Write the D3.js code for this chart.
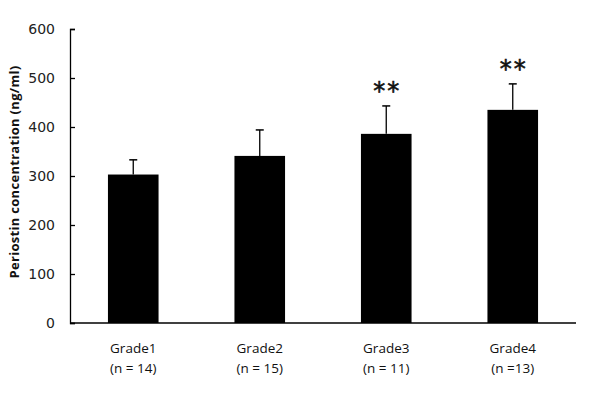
<!DOCTYPE html>
<html>
<head>
<meta charset="utf-8">
<script src="https://cdn.jsdelivr.net/npm/d3@7"></script>
<style>
  body { margin: 0; background: #fff; }
  svg { display: block; }
</style>
</head>
<body>
<div id="chart"></div>
<script>
// Data
const grades = ['Grade 1', 'Grade 2', 'Grade 3', 'Grade 4'];
const gradeLabels = ['Grade1', 'Grade2', 'Grade3', 'Grade4'];
const sampleLabels = ['(n = 14)', '(n = 15)', '(n = 11)', '(n =13)'];
const means = [303, 341, 386, 435];
const errors = [30, 53, 57, 53];
const significance = ['', '', '**', '**'];
const yTicks = [0, 100, 200, 300, 400, 500, 600];

const width = 600, height = 400;
const margin = { top: 29, right: 24, bottom: 77, left: 70 };

const svg = d3.select('#chart')
    .append('svg')
    .attr('width', width)
    .attr('height', height);

const g = svg.append('g')
    .attr('transform', `translate(${margin.left},${margin.top})`);

const innerW = width - margin.left - margin.right;
const innerH = height - margin.top - margin.bottom;

const x = d3.scaleBand()
    .domain(grades)
    .range([0, innerW])
    .paddingInner(0.6)
    .paddingOuter(0.3);

const y = d3.scaleLinear()
    .domain([0, 600])
    .range([innerH, 0]);

// Y axis, ticks point inward
const yAxis = g.append('g')
    .call(d3.axisLeft(y).tickValues(yTicks).tickSizeInner(-5).tickSizeOuter(-5).tickPadding(15));
yAxis.select('.domain').attr('stroke', '#000').attr('stroke-width', 1.3);
yAxis.selectAll('.tick line').attr('stroke', '#000').attr('stroke-width', 1.3);
yAxis.selectAll('.tick text')
    .style('font-family', 'DejaVu Sans, Verdana, sans-serif')
    .style('font-size', '14px')
    .attr('fill', '#222');

// X axis line
g.append('line')
    .attr('x1', 0).attr('x2', innerW)
    .attr('y1', innerH).attr('y2', innerH)
    .attr('stroke', '#000')
    .attr('stroke-width', 1.3);

const bars = g.selectAll('.bar')
    .data(grades)
    .enter()
    .append('g')
    .attr('class', 'bar');

bars.append('rect')
    .attr('x', d => x(d))
    .attr('width', x.bandwidth())
    .attr('y', (d, i) => y(means[i]))
    .attr('height', (d, i) => innerH - y(means[i]))
    .attr('fill', '#000');

// error bars (upper only)
bars.append('line')
    .attr('x1', d => x(d) + x.bandwidth() / 2)
    .attr('x2', d => x(d) + x.bandwidth() / 2)
    .attr('y1', (d, i) => y(means[i]))
    .attr('y2', (d, i) => y(means[i] + errors[i]))
    .attr('stroke', '#000')
    .attr('stroke-width', 1.3);

bars.append('line')
    .attr('x1', d => x(d) + x.bandwidth() / 2 - 4)
    .attr('x2', d => x(d) + x.bandwidth() / 2 + 4)
    .attr('y1', (d, i) => y(means[i] + errors[i]))
    .attr('y2', (d, i) => y(means[i] + errors[i]))
    .attr('stroke', '#000')
    .attr('stroke-width', 1.5);

// significance marks
bars.append('text')
    .attr('x', d => x(d) + x.bandwidth() / 2 + 1)
    .attr('y', (d, i) => y(means[i] + errors[i]) - 7)
    .attr('text-anchor', 'middle')
    .style('font-family', 'DejaVu Sans, sans-serif')
    .style('font-size', '24px')
    .style('letter-spacing', '2px')
    .style('stroke', '#111')
    .style('stroke-width', '0.6px')
    .attr('fill', '#111')
    .text((d, i) => significance[i]);

// category labels
bars.append('text')
    .attr('x', d => x(d) + x.bandwidth() / 2)
    .attr('y', innerH + 30)
    .attr('text-anchor', 'middle')
    .style('font-family', 'Open Sans, sans-serif')
    .style('font-size', '13.5px')
    .attr('fill', '#111')
    .text((d, i) => gradeLabels[i]);

bars.append('text')
    .attr('x', d => x(d) + x.bandwidth() / 2)
    .attr('y', innerH + 50)
    .attr('text-anchor', 'middle')
    .style('font-family', 'Open Sans, sans-serif')
    .style('font-size', '13.5px')
    .attr('fill', '#111')
    .text((d, i) => sampleLabels[i]);

// y axis title
svg.append('text')
    .attr('transform', `translate(19,172) rotate(-90)`)
    .attr('text-anchor', 'middle')
    .style('font-family', 'Open Sans, sans-serif')
    .style('font-size', '13px')
    .style('font-weight', 'bold')
    .style('letter-spacing', '0.3px')
    .attr('fill', '#111')
    .text('Periostin concentration  (ng/ml)');
</script>
</body>
</html>
